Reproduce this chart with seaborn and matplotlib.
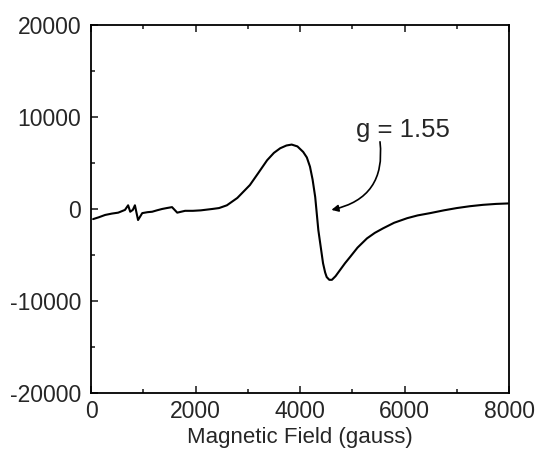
import seaborn as sns
import matplotlib.pyplot as plt
import pandas as pd
from matplotlib.ticker import MultipleLocator

# field (gauss) and signal values
field = [40, 150, 270, 400, 520, 650, 710, 750, 800, 840, 900, 980, 1080, 1170, 1260,
         1360, 1450, 1550, 1650, 1800, 1950, 2100, 2320, 2450, 2600, 2800, 3040,
         3200, 3370, 3500, 3620, 3740, 3840, 3950, 4060, 4130, 4190, 4240, 4290,
         4350, 4400, 4440, 4480, 4510, 4560, 4610, 4680, 4770, 4860, 4960, 5100,
         5280, 5430, 5590, 5800, 6050, 6250, 6490, 6750, 7000, 7250, 7500, 7750, 7980]
signal = [-1100, -900, -650, -500, -400, -100, 400, -300, -100, 400, -1200, -450, -350,
          -300, -150, 0, 100, 200, -400, -200, -200, -150, 0, 100, 400, 1200, 2600,
          3900, 5300, 6100, 6600, 6900, 7000, 6800, 6200, 5600, 4600, 3200, 1300,
          -2300, -4300, -5900, -6900, -7400, -7700, -7700, -7300, -6600, -5900, -5200,
          -4200, -3200, -2600, -2100, -1500, -1000, -700, -450, -150, 100, 300, 450, 550, 600]

df = pd.DataFrame({"field": field, "signal": signal})

sns.set_style("ticks")
plt.rcParams["font.family"] = ["Liberation Sans", "DejaVu Sans"]
plt.rcParams["axes.unicode_minus"] = False

fig = plt.figure(figsize=(5.37, 4.54), dpi=100)
ax = fig.add_axes([0.1695, 0.1344, 0.7785, 0.8106])

sns.lineplot(data=df, x="field", y="signal", color="black", linewidth=1.5, ax=ax, sort=False)

ax.set_xlim(0, 8000)
ax.set_ylim(-20000, 20000)
ax.xaxis.set_major_locator(MultipleLocator(2000))
ax.xaxis.set_minor_locator(MultipleLocator(1000))
ax.yaxis.set_major_locator(MultipleLocator(10000))
ax.yaxis.set_minor_locator(MultipleLocator(5000))
ax.tick_params(which="both", direction="in", top=True, right=False, labelsize=16.5, width=1.2)
ax.tick_params(which="major", length=5, pad=5)
ax.tick_params(axis="y", which="major", pad=7)
ax.tick_params(which="minor", length=3)
for s in ax.spines.values():
    s.set_linewidth(1.3)
    s.set_color("black")

ax.set_xlabel("Magnetic Field (gauss)", fontsize=16, labelpad=3)
ax.set_ylabel("")

# g-value label and curved arrow
ax.text(5970, 8600, "g = 1.55", fontsize=18.5, ha="center", va="center")
ax.annotate("", xy=(4600, -100), xytext=(5530, 7300),
            arrowprops=dict(arrowstyle="-|>", color="black", lw=1.2,
                            shrinkA=0, shrinkB=0, mutation_scale=10,
                            connectionstyle="arc3,rad=-0.45"))

plt.savefig("out.png", dpi=100)
